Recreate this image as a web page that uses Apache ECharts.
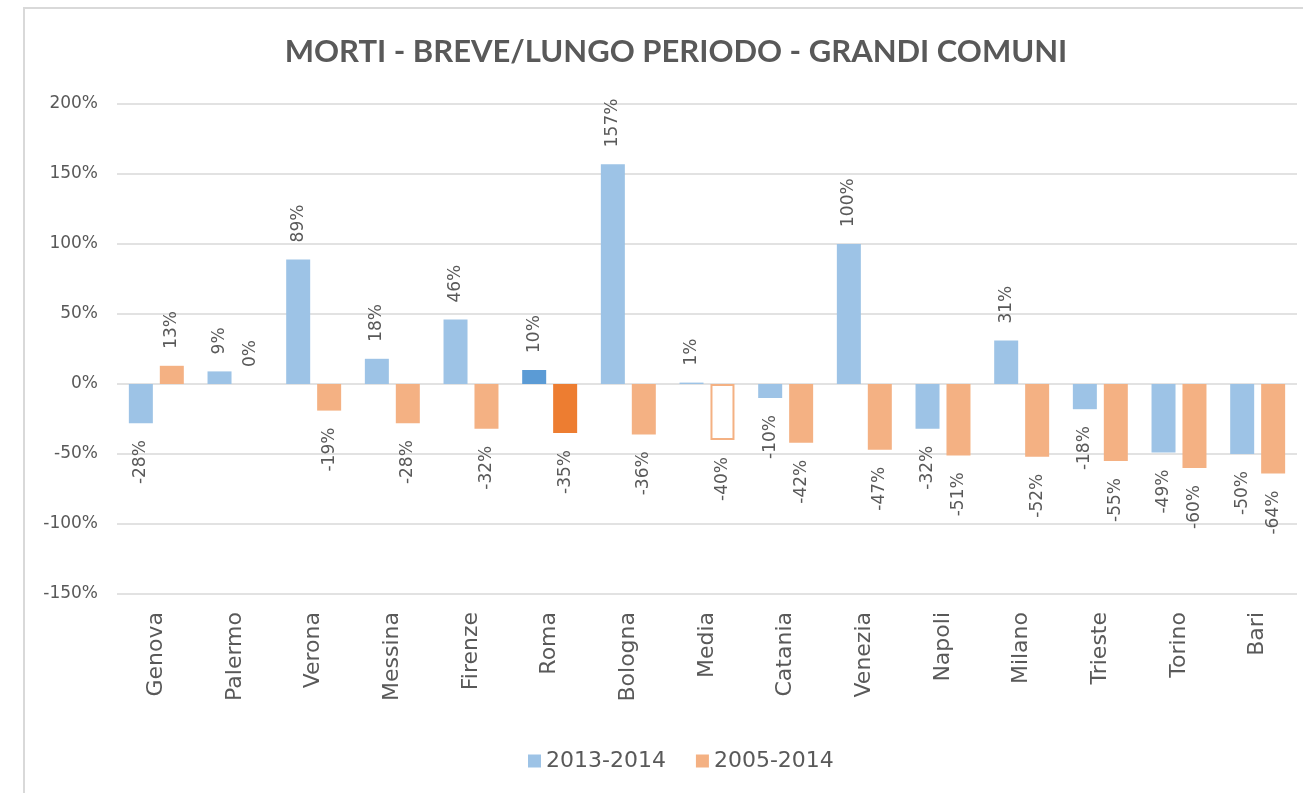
<!DOCTYPE html>
<html lang="it">
<head>
    <meta charset="UTF-8">
    <title>Morti - breve/lungo periodo</title>
    <script type="text/javascript" src="https://cdn.jsdelivr.net/npm/echarts@6/dist/echarts.min.js"></script>
    <style>
        html, body { margin: 0; padding: 0; background: #fff; }
    </style>
</head>
<body>
<div id="main" style="width: 1303px;height:793px;"></div>
<script>
    var comuni = ['Genova', 'Palermo', 'Verona', 'Messina', 'Firenze', 'Roma', 'Bologna', 'Media',
        'Catania', 'Venezia', 'Napoli', 'Milano', 'Trieste', 'Torino', 'Bari'];
    var breve = [-28, 9, 89, 18, 46, 10, 157, 1, -10, 100, -32, 31, -18, -49, -50];
    var lungo = [13, 0, -19, -28, -32, -35, -36, -40, -42, -47, -51, -52, -55, -60, -64];
    var yTicks = [-150, -100, -50, 0, 50, 100, 150, 200];

    var testo = '#595959';
    var font = 'DejaVu Sans';

    // una barra: colore normale, Roma evidenziata, Media solo bordo
    function punti(valori, chiaro, scuro) {
        return valori.map(function (v, i) {
            var style = {color: chiaro};
            if (comuni[i] == 'Roma') style = {color: scuro};
            if (comuni[i] == 'Media' && chiaro == '#f4b183') {
                style = {color: '#fff', borderColor: chiaro, borderWidth: 2};
            }
            var neg = v < 0;
            return {
                value: v,
                itemStyle: style,
                label: {
                    position: neg ? 'bottom' : 'top',
                    align: neg ? 'right' : 'left'
                }
            };
        });
    }

    var etichetta = {
        show: true,
        rotate: 90,
        distance: 17,
        verticalAlign: 'middle',
        color: testo,
        fontFamily: font,
        fontSize: 17,
        formatter: '{c}%'
    };

    var myChart = echarts.init(document.getElementById('main'));
    var option = {
        animation: false,
        textStyle: {fontFamily: font},
        graphic: [{
            type: 'rect',
            shape: {x: 24, y: 8, width: 1400, height: 900},
            style: {fill: 'none', stroke: '#d9d9d9', lineWidth: 2},
            silent: true
        }],
        title: {
            text: 'MORTI - BREVE/LUNGO PERIODO - GRANDI COMUNI',
            left: 671,
            textAlign: 'center',
            top: 31,
            textStyle: {color: testo, fontFamily: 'Lato', fontSize: 31, fontWeight: 'bold'}
        },
        legend: {
            left: 523,
            top: 745,
            itemWidth: 13,
            itemHeight: 13,
            itemGap: 30,
            icon: 'rect',
            textStyle: {color: testo, fontFamily: font, fontSize: 22},
            data: ['2013-2014', '2005-2014']
        },
        grid: {left: 117, right: 6, top: 104, bottom: 199},
        xAxis: {
            type: 'category',
            data: comuni,
            axisLine: {show: false, onZero: false},
            axisTick: {show: false},
            axisLabel: {rotate: 90, margin: 18, color: testo, fontFamily: font, fontSize: 22, interval: 0}
        },
        yAxis: {
            type: 'value',
            min: yTicks[0],
            max: yTicks[yTicks.length - 1],
            interval: 50,
            axisLabel: {formatter: '{value}%', color: testo, fontFamily: font, fontSize: 17, margin: 19},
            splitLine: {lineStyle: {color: '#d9d9d9', width: 1.5}},
            axisLine: {show: false},
            axisTick: {show: false}
        },
        series: [{
            name: '2013-2014',
            type: 'bar',
            barWidth: 24,
            barGap: '29%',
            itemStyle: {color: '#9dc3e6'},
            label: etichetta,
            data: punti(breve, '#9dc3e6', '#5b9bd5')
        }, {
            name: '2005-2014',
            type: 'bar',
            barWidth: 24,
            itemStyle: {color: '#f4b183'},
            label: etichetta,
            data: punti(lungo, '#f4b183', '#ed7d31')
        }]
    };
    myChart.setOption(option);
</script>
</body>
</html>
